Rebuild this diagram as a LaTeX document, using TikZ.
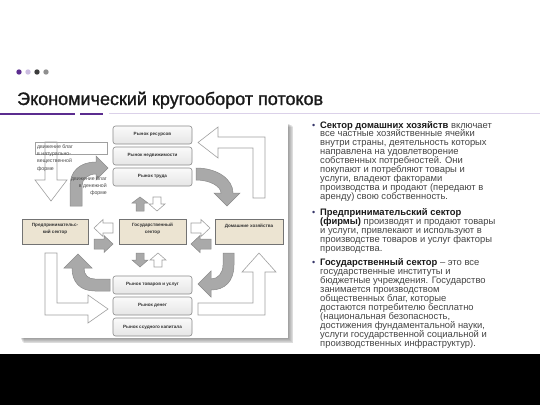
\documentclass[tikz,border=0pt]{standalone}
\usepackage{fontspec}
\setmainfont{Liberation Sans}
\newfontfamily\titlefont[FakeBold=1.2]{Liberation Sans}
\definecolor{purp}{HTML}{5B2C8F}
\definecolor{lpurp}{HTML}{CBBDE0}
\definecolor{dgray}{HTML}{3C3C3C}
\definecolor{mgray}{HTML}{8F8F8F}
\definecolor{bodytext}{HTML}{454545}
\definecolor{beige}{HTML}{ECE4D2}
\definecolor{arrgray}{HTML}{A9A9A9}
\definecolor{arredge}{HTML}{8A8A8A}
\definecolor{wedge}{HTML}{A0A0A0}
\newcommand{\llines}[1]{\vtop{\hsize=230pt\parindent=0pt\parskip=0pt\lineskiplimit=-20pt\lineskip=0pt\raggedright\leavevmode #1\par}}
\newcommand{\rlines}[1]{\vtop{\hsize=70pt\parindent=0pt\parskip=0pt\lineskiplimit=-20pt\lineskip=0pt\raggedleft\leavevmode #1\par}}
\newcommand{\clines}[1]{\vtop{\hsize=66pt\parindent=0pt\parskip=0pt\lineskiplimit=-20pt\lineskip=0pt\centering\leavevmode #1\par}}
\tikzset{
  market/.style={draw=arredge, line width=0.6pt, rounded corners=2.5pt, top color=gray!4, bottom color=gray!20,
    minimum width=79pt, minimum height=18pt, inner sep=0pt, font=\fontsize{4.6}{5}\selectfont\bfseries, text=black!80},
  sector/.style={draw=black!55, line width=0.6pt, fill=beige, minimum height=25pt, inner sep=0pt},
  sectortext/.style={inner sep=0pt, font=\fontsize{4.6}{6.8}\selectfont\bfseries, text=black!80, anchor=base},
  grayarr/.style={draw=arredge, fill=arrgray, line width=0.5pt, line join=miter},
  whitearr/.style={draw=wedge, fill=white, line width=0.6pt, line join=miter},
  legtext/.style={font=\fontsize{5.2}{7.4}\selectfont, text=black!70, inner sep=0pt},
  para/.style={font=\fontsize{9.4}{8.95}\selectfont, text=bodytext, inner sep=0pt, anchor=base west},
  bulletnode/.style={font=\fontsize{9}{8.9}\selectfont, text=bodytext!80!blue, inner sep=0pt, anchor=base west},
}
\begin{document}
\begin{tikzpicture}[x=1pt,y=-1pt]
\useasboundingbox (0,0) rectangle (540,405);
\fill[white] (0,0) rectangle (540,354);
\fill[black] (0,354) rectangle (540,405);

% header dots
\fill[purp] (19,72) circle (2.7);
\fill[lpurp] (28,72) circle (2.7);
\fill[dgray] (37,72) circle (2.7);
\fill[mgray] (46,72) circle (2.7);
\node[anchor=base west, inner sep=0pt, font=\titlefont\fontsize{18}{20}\selectfont, text=black!90] (title) at (17,105) {Экономический кругооборот потоков};
\draw[purp, line width=2pt] (0,113.5) -- (75,113.5);
\draw[purp, line width=2pt] (80,113.5) -- (103,113.5);
\draw[lpurp!70, line width=1pt] (109,113.5) -- (540,113.5);

% diagram frame with soft shadow
\foreach \i in {1,...,6}
  \fill[black, opacity=0.07] (20+\i*0.6,123+\i*0.6) rectangle (288+\i*0.9,338+\i*0.9);
\fill[white] (20,123) rectangle (288,338);

% top-right white L arrow
\path[whitearr] (265,137) -- (265,198) -- (253,198) -- (253,148) -- (218,148) -- (218,158) -- (198,142.5) -- (218,127) -- (218,137) -- cycle;
% top-right gray curved arrow
\path[grayarr] (196,168) .. controls (217,168) and (233,179) .. (233,193) -- (240,193) -- (227,206) -- (214,193) -- (221,193) .. controls (221,186.4) and (210,180) .. (196,180) -- cycle;
% bottom-right gray curved arrow
\path[grayarr] (234,253) -- (234,265) .. controls (234,281) and (225,290) .. (211,290) -- (211,297) -- (198,284) -- (211,271) -- (211,279) .. controls (218,279) and (223,273) .. (223,265) -- (223,253) -- cycle;
% bottom-right white L arrow
\path[whitearr] (198,303) -- (253,303) -- (253,272) -- (242,272) -- (259,253) -- (276,272) -- (265,272) -- (265,315) -- (198,315) -- cycle;
% bottom-left white L arrow
\path[whitearr] (45,253) -- (45,315) -- (88,315) -- (88,323) -- (108,309) -- (88,295) -- (88,303) -- (57,303) -- (57,253) -- cycle;
% bottom-left gray curved arrow
\path[grayarr] (110,279) -- (95,279) .. controls (88,279) and (84,275) .. (84,268) -- (92,268) -- (78,254) -- (64,268) -- (72,268) .. controls (72,282) and (80,291) .. (95,291) -- (110,291) -- cycle;
% top-left white arrow (down) with bar
\path[whitearr] (45,142) -- (45,180) -- (35,180) -- (51,201) -- (67,180) -- (57,180) -- (57,142) -- cycle;
\draw[wedge, line width=0.6pt] (35,142) rectangle (107,154);
% top-left gray curved arrow
\path[grayarr] (70,206) -- (70,186) .. controls (70,171) and (80,162) .. (96,162) -- (96,156) -- (108,168) -- (96,180) -- (96,174) .. controls (88,174) and (82,179) .. (82,186) -- (82,206) -- cycle;

% small arrows around the state sector
\path[grayarr] (136,211) -- (136,203) -- (132,203) -- (140,197) -- (148,203) -- (144,203) -- (144,211) -- cycle;
\path[whitearr] (153,197) -- (153,204) -- (149,204) -- (157,211) -- (165,204) -- (161,204) -- (161,197) -- cycle;
\path[grayarr] (136,253) -- (136,260) -- (132,260) -- (140,267) -- (148,260) -- (144,260) -- (144,253) -- cycle;
\path[whitearr] (154,267) -- (154,260) -- (150,260) -- (158,253) -- (166,260) -- (162,260) -- (162,267) -- cycle;
\path[whitearr] (113,223) -- (103,223) -- (103,219.5) -- (94,228) -- (103,236.5) -- (103,233) -- (113,233) -- cycle;
\path[grayarr] (94,239) -- (104,239) -- (104,235.5) -- (113,244) -- (104,252.5) -- (104,249) -- (94,249) -- cycle;
\path[whitearr] (191,223) -- (201,223) -- (201,219.5) -- (210,228) -- (201,236.5) -- (201,233) -- (191,233) -- cycle;
\path[grayarr] (211,239) -- (200,239) -- (200,235.5) -- (191,244) -- (200,252.5) -- (200,249) -- (211,249) -- cycle;

% markets
\node[market] (m1) at (152.5,135) {\raisebox{2pt}{Рынок ресурсов}};
\node[market] (m2) at (152.5,156) {\raisebox{2pt}{Рынок недвижимости}};
\node[market] (m3) at (152.5,177) {\raisebox{2pt}{Рынок труда}};
\node[market] (m4) at (152.5,285) {\raisebox{2pt}{Рынок товаров и услуг}};
\node[market] (m5) at (152.5,306) {\raisebox{2pt}{Рынок денег}};
\node[market] (m6) at (152.5,327) {\raisebox{1pt}{Рынок ссудного капитала}};

% sectors
\node[sector, minimum width=66pt] (s1) at (55,231.5) {};
\node[sector, minimum width=67pt] (s2) at (152.5,231.5) {};
\node[sector, minimum width=68pt] (s3) at (249,231.5) {};
\node[sectortext] (s1t) at (55,226.5) {\clines{Предпринимательс-\\кий сектор}};
\node[sectortext] (s2t) at (152.5,226.5) {\clines{Государственный\\сектор}};
\node[sectortext] (s3t) at (249,227.5) {Домашние хозяйства};

% legend texts
\node[legtext, anchor=base west] (l1) at (37,148) {\llines{движение благ\\в натурально-\\вещественной\\форме}};
\node[legtext, anchor=base east] (l2) at (107,180) {\rlines{движение благ\\в денежной\\форме}};

% right text
\node[bulletnode] (b1) at (312,128) {•};
\node[para] (p1) at (320,128) {\llines{{\color{black!90}\bfseries Сектор домашних хозяйств} включает\\все частные хозяйственные ячейки\\внутри страны, деятельность которых\\направлена на удовлетворение\\собственных потребностей. Они\\покупают и потребляют товары и\\услуги, владеют факторами\\производства и продают (передают в\\аренду) свою собственность.}};
\node[bulletnode] (b2) at (312,215.5) {•};
\node[para] (p2) at (320,215.5) {\llines{{\color{black!90}\bfseries Предпринимательский сектор}\\{\color{black!90}\bfseries (фирмы)} производят и продают товары\\и услуги, привлекают и используют в\\производстве товаров и услуг факторы\\производства.}};
\node[bulletnode] (b3) at (312,265.5) {•};
\node[para] (p3) at (320,265.5) {\llines{{\color{black!90}\bfseries Государственный сектор} – это все\\государственные институты и\\бюджетные учреждения. Государство\\занимается производством\\общественных благ, которые\\достаются потребителю бесплатно\\(национальная безопасность,\\достижения фундаментальной науки,\\услуги государственной социальной и\\производственных инфраструктур).}};
\end{tikzpicture}
\end{document}
